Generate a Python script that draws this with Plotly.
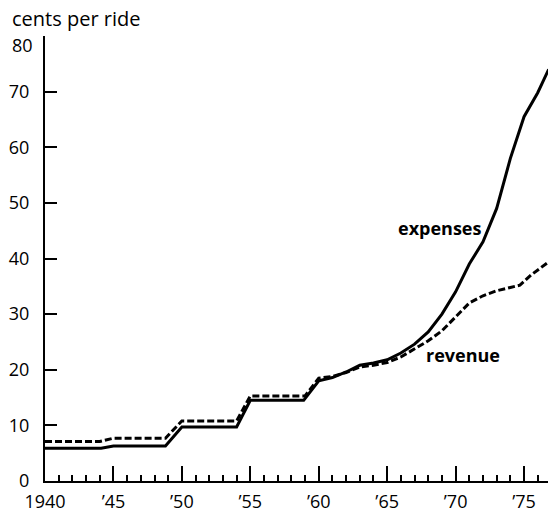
import plotly.graph_objects as go

# Data (year, cents per ride)
exp_years = [1940, 1944.1, 1945, 1948.8, 1950, 1954, 1955, 1958.9, 1960, 1961, 1962, 1963, 1964,
             1965, 1966, 1967, 1968, 1969, 1970, 1971, 1972, 1973, 1974, 1975, 1976, 1976.8]
expenses = [5.9, 5.9, 6.3, 6.3, 9.7, 9.7, 14.5, 14.5, 18.0, 18.6, 19.6, 20.8, 21.2,
            21.8, 23.0, 24.6, 26.8, 30.0, 34.0, 39.0, 43.0, 49.0, 58.0, 65.5, 69.8, 74.0]

rev_years = [1940, 1944, 1945, 1948.8, 1950, 1954, 1955, 1959, 1960, 1961, 1962, 1963, 1964,
             1965, 1966, 1967, 1968, 1969, 1970, 1971, 1972, 1973, 1974, 1974.7, 1975.5, 1976.8]
revenue = [7.1, 7.1, 7.7, 7.7, 10.8, 10.8, 15.3, 15.3, 18.5, 18.8, 19.5, 20.5, 20.8,
           21.3, 22.3, 23.8, 25.2, 27.0, 29.5, 32.0, 33.3, 34.2, 34.8, 35.2, 37.0, 39.4]

x_tickvals = [1940, 1945, 1950, 1955, 1960, 1965, 1970, 1975]
x_ticktext = ["1940", "\u201945", "\u201950", "\u201955", "\u201960", "\u201965", "\u201970", "\u201975"]
y_tickvals = [0, 10, 20, 30, 40, 50, 60, 70, 80]
y_ticktext = ["0", "10", "20", "30", "40", "50", "60", "70", ""]

FONT = "Open Sans"

W, H = 548, 513
ML, MR, MT, MB = 45, 0, 36, 32
PW, PH = W - ML - MR, H - MT - MB

fig = go.Figure()
fig.add_trace(go.Scatter(x=exp_years, y=expenses, mode="lines",
                         line=dict(color="black", width=3), name="expenses"))
fig.add_trace(go.Scatter(x=rev_years, y=revenue, mode="lines",
                         line=dict(color="black", width=3, dash="7px,3px"), name="revenue"))

fig.add_annotation(x=1968.84, y=45.5, xref="x", yref="y", text="<b>expenses</b>",
                   showarrow=False, font=dict(family=FONT, size=18, color="black"))
fig.add_annotation(x=1970.57, y=22.65, xref="x", yref="y", text="<b>revenue</b>",
                   showarrow=False, font=dict(family=FONT, size=18, color="black"))
fig.add_annotation(x=(10 - ML) / PW, y=1 + (MT - 19) / PH, xref="paper", yref="paper",
                   text="cents per ride", showarrow=False, xanchor="left", yanchor="middle",
                   font=dict(family=FONT, size=20, color="black"))
# "80" label sits slightly below its tick in the reference
fig.add_annotation(x=(35 - ML) / PW, y=1 - 9 / PH, xref="paper", yref="paper",
                   text="80", showarrow=False, xanchor="right", yanchor="middle",
                   font=dict(family=FONT, size=18, color="black"))

fig.update_layout(
    width=W, height=H,
    margin=dict(l=ML, r=MR, t=MT, b=MB),
    paper_bgcolor="white", plot_bgcolor="white",
    showlegend=False,
    font=dict(family=FONT, size=18, color="black"),
    xaxis=dict(range=[1940, 1976.75], tickvals=x_tickvals, ticktext=x_ticktext,
               ticks="inside", ticklen=15, tickwidth=2, tickcolor="black",
               showline=True, linewidth=2, linecolor="black", showgrid=False, zeroline=False,
               minor=dict(dtick=1, tick0=1940, ticks="inside", ticklen=6, tickwidth=2,
                          tickcolor="black", showgrid=False),
               ticklabelstandoff=3),
    yaxis=dict(range=[0, 80], tickvals=y_tickvals, ticktext=y_ticktext,
               ticks="inside", ticklen=12, tickwidth=2, tickcolor="black",
               showline=True, linewidth=2, linecolor="black", showgrid=False, zeroline=False,
               ticklabelstandoff=10),
)

fig.write_html(
    "out.html",
    config={"displayModeBar": False, "staticPlot": True},
    post_script="document.body.style.margin='0';document.body.style.overflow='hidden';",
)
